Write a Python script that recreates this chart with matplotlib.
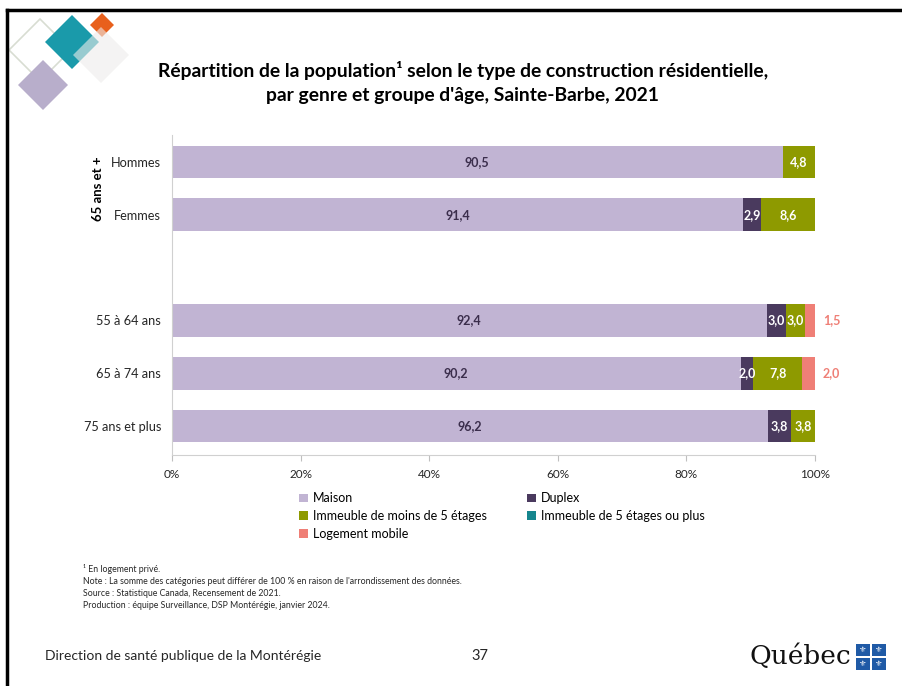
import matplotlib.pyplot as plt
from matplotlib.patches import Polygon, Rectangle
from matplotlib.lines import Line2D
import numpy as np

plt.rcParams['font.family'] = ['Lato', 'DejaVu Sans']

# données (en %)
categories = ['Hommes', 'Femmes', '', '55 à 64 ans', '65 à 74 ans', '75 ans et plus']
series = ['Maison', 'Duplex', 'Immeuble de moins de 5 étages',
          'Immeuble de 5 étages ou plus', 'Logement mobile']
maison = [90.5, 91.4, 0, 92.4, 90.2, 96.2]
duplex = [0, 2.9, 0, 3.0, 2.0, 3.8]
immeuble_moins5 = [4.8, 8.6, 0, 3.0, 7.8, 3.8]
immeuble_5plus = [0, 0, 0, 0, 0, 0]
logement_mobile = [0, 0, 0, 1.5, 2.0, 0]

couleurs = ['#C1B4D3', '#4A3A5E', '#8E9A00', '#16868E', '#EF7F76']
couleurs_txt = ['#3B2E4C', 'white', 'white', 'white', '#EF7F76']

fig = plt.figure(figsize=(9.02, 6.86), dpi=100)
W, H = 902, 686

def fx(px):
    return px / W

def fy(py):
    return 1 - py / H

# cadre de la diapositive
fig.add_artist(Line2D([fx(7), 1], [fy(10), fy(10)], color='black', lw=2.5))
fig.add_artist(Line2D([fx(7), fx(7)], [fy(10), 0], color='black', lw=2.5))

# logo (losanges)
def losange(cx, cy, r, **kw):
    pts = [(fx(cx), fy(cy - r)), (fx(cx + r), fy(cy)),
           (fx(cx), fy(cy + r)), (fx(cx - r), fy(cy))]
    fig.add_artist(Polygon(pts, closed=True, transform=fig.transFigure, **kw))

losange(40, 50, 31, facecolor='none', edgecolor='#D8DDD2', lw=1.2)
losange(43, 85, 25, facecolor='#B8AECB', edgecolor='none')
losange(72, 42, 27, facecolor='#1A9AAA', edgecolor='none')
losange(102, 25, 12, facecolor='#E8601C', edgecolor='none')
losange(101, 55, 28, facecolor='#EEECEB', edgecolor='none', alpha=0.6)

# titre
fig.text(0.513, fy(70), "Répartition de la population¹ selon le type de construction résidentielle,",
         ha='center', va='center', fontsize=13.9, fontweight='bold', color='black')
fig.text(0.513, fy(95), "par genre et groupe d'âge, Sainte-Barbe, 2021",
         ha='center', va='center', fontsize=13.9, fontweight='bold', color='black')

# graphique
ax = fig.add_axes([fx(172), fy(455), fx(815) - fx(172), fy(135) - fy(455)])
valeurs = np.array([maison, duplex, immeuble_moins5, immeuble_5plus, logement_mobile])
totaux = valeurs.sum(axis=0)
totaux[totaux == 0] = 1
parts = valeurs / totaux * 100
y = np.arange(len(categories))
gauche = np.zeros(len(categories))
for i, nom in enumerate(series):
    ax.barh(y, parts[i], left=gauche, height=0.62, color=couleurs[i], label=nom)
    for j in range(len(categories)):
        v = valeurs[i][j]
        if v <= 0:
            continue
        if i == 4:
            xt = 102.6
        else:
            xt = gauche[j] + parts[i][j] / 2
        ax.text(xt, y[j], f"{v:.1f}".replace('.', ','), ha='center', va='center',
                fontsize=9, fontweight='bold', color=couleurs_txt[i])
    gauche += parts[i]

ax.set_xlim(0, 100)
ax.set_ylim(5.55, -0.51)
ax.set_yticks([0, 1, 3, 4, 5])
ax.set_yticklabels([categories[k] for k in [0, 1, 3, 4, 5]], fontsize=9.2, color='#262626')
ax.tick_params(axis='y', length=0, pad=8)
ax.set_xticks(np.arange(0, 101, 20))
ax.set_xticklabels([f"{t}%" for t in range(0, 101, 20)], fontsize=8.5, color='#262626')
ax.tick_params(axis='x', length=4, color='#BFBFBF', pad=6)
for s in ['top', 'right']:
    ax.spines[s].set_visible(False)
for s in ['left', 'bottom']:
    ax.spines[s].set_color('#D0D0D0')
ax.text(-0.115, 0.5, '65 ans et +', transform=ax.get_yaxis_transform(), rotation=90,
        ha='center', va='center', fontsize=9.5, fontweight='bold', color='black')

# légende
h, l = ax.get_legend_handles_labels()
ordre = [0, 2, 4, 1, 3]
fig.legend([h[k] for k in ordre], [l[k] for k in ordre], ncol=2, frameon=False,
           loc='upper left', bbox_to_anchor=(fx(288), fy(481)), fontsize=9,
           handlelength=0.7, handleheight=0.7, handletextpad=0.4,
           labelspacing=0.45, columnspacing=3.2)

# notes
notes = ["¹ En logement privé.",
         "Note : La somme des catégories peut différer de 100 % en raison de l'arrondissement des données.",
         "Source : Statistique Canada, Recensement de 2021.",
         "Production : équipe Surveillance, DSP Montérégie, janvier 2024."]
for k, n in enumerate(notes):
    fig.text(fx(83), fy(569 + k * 12.3), n, fontsize=6.3, va='center', color='#262626')

# pied de page
fig.text(fx(45), fy(656), 'Direction de santé publique de la Montérégie', fontsize=10,
         va='center', color='#262626')
fig.text(fx(480), fy(656), '37', fontsize=10.5, va='center', ha='center', color='#262626')
fig.text(fx(851), fy(656), 'Québec', fontsize=19, va='center', ha='right',
         family='DejaVu Serif', color='#111111')
bleu = '#1F5AA6'
for (cx, cy) in [(863, 650), (879, 650), (863, 664), (879, 664)]:
    fig.add_artist(Rectangle((fx(cx - 7), fy(cy + 6)), fx(14), fy(0) - fy(12),
                             transform=fig.transFigure, facecolor=bleu, edgecolor='none'))
    fig.text(fx(cx), fy(cy), '⚜', fontsize=6, ha='center', va='center', color='white',
             family='DejaVu Sans')

fig.savefig('out.png', dpi=100)
